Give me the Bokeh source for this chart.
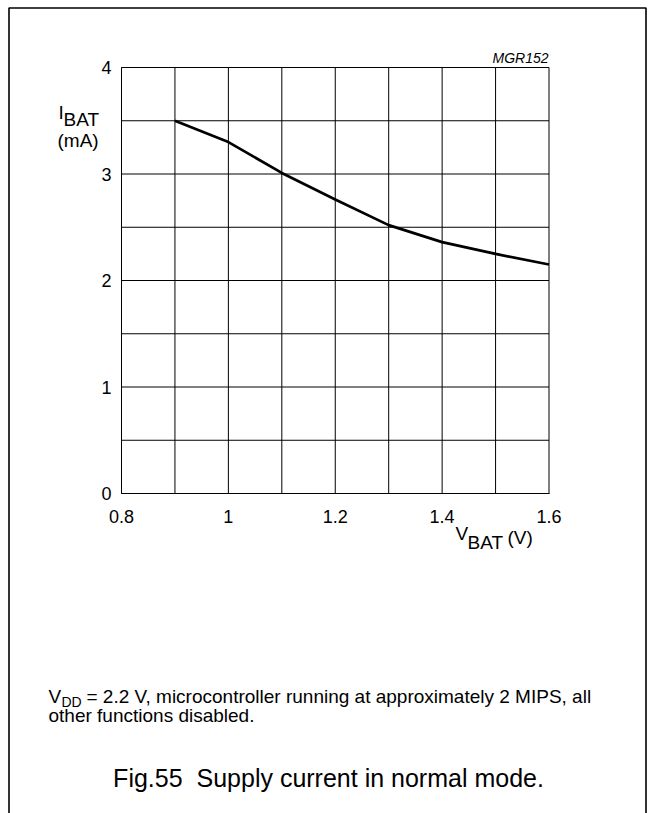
from bokeh.plotting import figure
from bokeh.models import Label, BoxAnnotation, FixedTicker
from bokeh.embed import file_html
from bokeh.resources import INLINE

# ---- data ----
v_bat = [0.9, 1.0, 1.1, 1.2, 1.3, 1.4, 1.5, 1.6]
i_bat = [3.50, 3.30, 3.01, 2.76, 2.52, 2.36, 2.25, 2.15]

x_ticks = [0.8, 1.0, 1.2, 1.4, 1.6]
x_tick_labels = ["0.8", "1", "1.2", "1.4", "1.6"]
y_ticks = [0, 1, 2, 3, 4]
y_tick_labels = ["0", "1", "2", "3", "4"]
x_grid = [0.8, 0.9, 1.0, 1.1, 1.2, 1.3, 1.4, 1.5, 1.6]
y_grid = [0, 0.5, 1, 1.5, 2, 2.5, 3, 3.5, 4]

FONT = "Liberation Sans"
W, H = 653, 813
# plot-area placement in pixels (frame spans whole canvas)
PX0, PX1 = 121, 548.5
PY_TOP, PY_BOT = 67, 493
XMIN, XMAX = x_grid[0], x_grid[-1]
YMIN, YMAX = y_grid[0], y_grid[-1]
sx = (PX1 - PX0) / (XMAX - XMIN)
sy = (PY_BOT - PY_TOP) / (YMAX - YMIN)
x_range = (XMIN - PX0 / sx, XMAX + (W - PX1) / sx)
y_range = (YMIN - (H - PY_BOT) / sy, YMAX + PY_TOP / sy)

p = figure(width=W, height=H, x_range=x_range, y_range=y_range,
           output_backend="svg", toolbar_location=None,
           min_border=0, min_border_left=0, min_border_right=0,
           min_border_top=0, min_border_bottom=0)
p.title.visible = False
p.background_fill_color = "white"
p.border_fill_color = "white"
p.outline_line_color = None
p.xgrid.visible = False
p.ygrid.visible = False

for ax in (p.xaxis[0], p.yaxis[0]):
    ax.major_tick_in = 0
    ax.major_tick_out = 0
    ax.minor_tick_line_color = None
    ax.axis_line_color = "black"
    ax.major_label_text_font = FONT
    ax.major_label_text_font_size = "18px"
    ax.major_label_text_color = "black"

p.xaxis[0].ticker = FixedTicker(ticks=x_ticks)
p.xaxis[0].major_label_overrides = {t: l for t, l in zip(x_ticks, x_tick_labels)}
p.xaxis[0].major_label_standoff = 16
p.xaxis[0].fixed_location = YMIN
p.xaxis[0].bounds = (XMIN, XMAX)
p.yaxis[0].ticker = FixedTicker(ticks=y_ticks)
p.yaxis[0].major_label_overrides = {t: l for t, l in zip(y_ticks, y_tick_labels)}
p.yaxis[0].major_label_standoff = 10
p.yaxis[0].fixed_location = XMIN
p.yaxis[0].bounds = (YMIN, YMAX)

# grid lines
p.segment(x0=x_grid, y0=[YMIN] * len(x_grid), x1=x_grid, y1=[YMAX] * len(x_grid),
          line_color="black", line_width=1)
p.segment(x0=[XMIN] * len(y_grid), y0=y_grid, x1=[XMAX] * len(y_grid), y1=y_grid,
          line_color="black", line_width=1)

# curve
p.line(v_bat, i_bat, line_color="black", line_width=2.7)

def lab(text, px, py, size, align="left", style="normal"):
    p.add_layout(Label(x=px, y=H - py, x_units="screen", y_units="screen",
                       text=text, text_font=FONT, text_font_size=f"{size}px",
                       text_font_style=style, text_color="black",
                       text_align=align, text_baseline="alphabetic"))

# outer frame box (open at bottom)
p.add_layout(BoxAnnotation(left=8.5, right=645.5, top=H - 7.5, bottom=-20,
                           left_units="screen", right_units="screen",
                           top_units="screen", bottom_units="screen",
                           fill_alpha=0, line_color="black", line_alpha=1.0,
                           line_width=1.6))

lab("MGR152", 548, 57, 14, align="right", style="italic")

# y label
lab("I", 58, 112, 19)
lab("BAT", 63, 119, 19)
lab("(mA)", 57, 140, 19)

# x label
lab("V", 455, 533, 19)
lab("BAT", 467, 542, 19)
lab("(V)", 507, 537, 19)

# footnote
lab("V", 48, 696, 19)
lab("DD", 61, 701, 14)
lab("= 2.2 V, microcontroller running at approximately 2 MIPS, all", 86, 696, 19)
lab("other functions disabled.", 48, 715, 19)

# caption
lab("Fig.55\u00a0 Supply current in normal mode.", 328, 777, 25, align="center")

open("out.html", "w").write(file_html(p, INLINE))
